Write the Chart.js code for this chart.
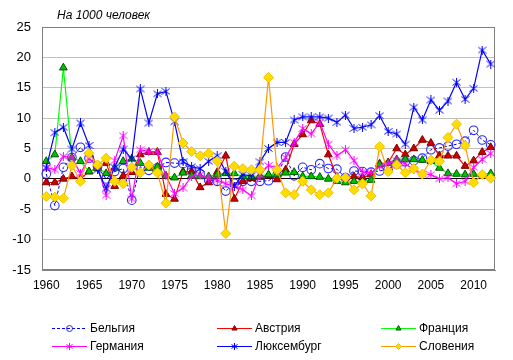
<!DOCTYPE html>
<html><head><meta charset="utf-8">
<script src="https://cdn.jsdelivr.net/npm/chart.js@4/dist/chart.umd.min.js"></script>
<style>html,body{margin:0;padding:0;background:#fff;}</style>
</head><body>
<canvas id="c" width="513" height="360"></canvas>
<script>
const years = ['1960','1961','1962','1963','1964','1965','1966','1967','1968','1969',
  '1970','1971','1972','1973','1974','1975','1976','1977','1978','1979',
  '1980','1981','1982','1983','1984','1985','1986','1987','1988','1989',
  '1990','1991','1992','1993','1994','1995','1996','1997','1998','1999',
  '2000','2001','2002','2003','2004','2005','2006','2007','2008','2009',
  '2010','2011','2012'];
const shownYears = ['1960','1965','1970','1975','1980','1985','1990','1995','2000','2005','2010'];
const yTicks = [-15,-10,-5,0,5,10,15,20,25];
const titleText = 'На 1000 человек';

const belgium = [0.8,-4.4,1.9,3.5,5.2,3.4,2.0,0.0,1.2,1.7,
  -3.5,2.0,1.4,1.8,2.7,2.6,2.5,1.5,0.8,-0.2,
  -0.4,-2.0,-0.7,-0.4,-0.4,-0.4,-0.3,0.6,3.6,0.5,
  1.9,1.5,2.5,1.7,1.6,0.2,1.3,1.2,1.1,1.3,
  1.6,2.4,2.8,3.0,3.4,4.8,5.1,5.4,5.7,6.2,
  8.0,6.4,5.6];
const austria = [-0.6,-0.6,0.0,0.4,0.0,1.2,1.8,2.6,-1.2,0.5,
  1.1,4.0,4.4,4.4,-2.5,-3.3,1.2,1.2,-1.4,-0.6,
  1.1,3.8,-3.3,-0.4,0.1,0.3,0.5,-0.1,1.5,5.7,
  7.3,9.6,9.0,4.0,0.3,0.2,0.4,0.2,0.7,2.5,
  2.7,5.0,4.0,5.0,6.4,5.9,3.8,3.8,3.8,2.1,
  3.0,4.4,5.2];
const france = [2.9,4.0,18.3,3.5,2.9,1.2,1.8,0.9,1.8,2.9,
  3.3,2.6,1.8,2.0,0.5,0.2,1.0,0.5,0.4,0.4,
  0.7,0.9,0.9,0.4,0.4,0.5,0.7,0.7,1.0,1.1,
  0.4,0.4,0.3,0.0,-0.4,-0.6,-0.4,-0.4,-0.2,2.4,
  2.6,3.2,3.2,3.2,3.1,2.9,1.8,0.9,0.8,0.7,
  0.8,0.7,0.9];
const germany = [1.9,1.5,3.7,3.5,0.9,3.4,2.0,-2.7,3.0,7.1,
  -3.3,4.8,4.5,4.5,0.5,-2.4,-1.5,0.4,0.7,0.0,
  -0.2,-0.8,-1.2,-1.8,-2.8,0.7,2.2,1.8,3.5,6.0,
  8.3,7.4,9.3,5.7,3.8,4.8,3.0,1.1,1.0,2.0,
  2.5,3.0,2.5,1.5,0.8,0.7,0.0,0.2,-0.8,-0.4,
  1.9,3.2,4.2];
const luxembourg = [1.8,7.6,8.5,4.9,9.2,5.5,1.5,-1.6,1.9,4.9,
  3.3,14.8,9.2,14.0,14.4,9.4,2.8,2.0,1.7,2.9,
  3.8,1.2,-1.2,0.7,0.5,2.8,5.0,6.0,6.0,9.7,
  10.2,10.2,10.2,10.0,9.3,10.5,8.3,8.5,8.9,10.4,
  7.8,7.4,5.7,11.8,9.7,13.0,11.3,12.8,15.9,13.1,
  14.9,21.2,18.9];
const slovenia = [-2.9,-3.0,-3.2,2.2,-0.4,4.2,2.3,3.4,-0.4,-0.8,
  1.9,1.0,2.3,1.0,-4.0,10.2,5.9,4.5,3.8,4.2,
  2.9,-9.0,2.1,1.7,1.5,1.5,16.7,1.5,-2.3,-2.6,
  -0.4,-1.8,-2.6,-2.3,0.1,0.2,-1.8,-0.8,-2.8,5.3,
  1.2,2.3,1.0,1.7,0.8,3.1,2.9,6.8,9.0,5.5,
  -0.6,0.7,0.1];

const FONT = "'Liberation Sans', Arial, sans-serif";

// Excel-like asterisk marker: X + vertical bar
function makeStar(color, size){
  const c = document.createElement('canvas');
  c.width = size; c.height = size;
  const g = c.getContext('2d');
  g.strokeStyle = color; g.lineWidth = 1;
  const m = size / 2, e = size - 0.5;
  g.beginPath();
  g.moveTo(m, 0); g.lineTo(m, size);
  g.moveTo(0.5, 1.5); g.lineTo(e, size - 1.5);
  g.moveTo(0.5, size - 1.5); g.lineTo(e, 1.5);
  g.stroke();
  return c;
}

const datasets = [
  {label:'Бельгия', data:belgium, borderColor:'#0000ff', borderWidth:1, borderDash:[3,2],
   pointStyle:'circle', pointRadius:4.3, pointBackgroundColor:'rgba(255,255,255,0)', pointBorderColor:'#2a2aff', pointBorderWidth:1.1, order:5},
  {label:'Австрия', data:austria, borderColor:'#ff0000', borderWidth:1.2,
   pointStyle:'triangle', pointRadius:4.5, pointBackgroundColor:'#cc0000', pointBorderColor:'#800000', pointBorderWidth:1, order:4},
  {label:'Франция', data:france, borderColor:'#00ff00', borderWidth:1.2,
   pointStyle:'triangle', pointRadius:4.5, pointBackgroundColor:'#00c000', pointBorderColor:'#005500', pointBorderWidth:1, order:3},
  {label:'Германия', data:germany, borderColor:'#ff00ff', borderWidth:1.2,
   pointStyle:makeStar('#ff00ff', 9), legendStyle:makeStar('#ff00ff', 7), pointRadius:4.5, pointBackgroundColor:'#ff00ff', pointBorderColor:'#ff00ff', pointBorderWidth:1, order:2},
  {label:'Люксембург', data:luxembourg, borderColor:'#0000ff', borderWidth:1.2,
   pointStyle:makeStar('#0000ff', 9), legendStyle:makeStar('#0000ff', 7), pointRadius:4.5, pointBackgroundColor:'#0000ff', pointBorderColor:'#0000ff', pointBorderWidth:1, order:1},
  {label:'Словения', data:slovenia, borderColor:'#ff9900', borderWidth:1.2,
   pointStyle:'rectRot', pointRadius:5, pointBackgroundColor:'#ffdd00', pointBorderColor:'#f0c000', pointBorderWidth:1, order:0}
];
datasets.forEach(d => { d.tension = 0; d.fill = false; d.pointHoverRadius = d.pointRadius; });

const legendPos = [
  {x:52, y:328}, {x:217, y:328}, {x:381, y:328},
  {x:52, y:346}, {x:217, y:346}, {x:381, y:346}
];

const framePlugin = {
  id:'frame',
  beforeDatasetsDraw(chart){
    const {ctx, chartArea:a} = chart;
    ctx.save();
    ctx.strokeStyle = '#808080';
    ctx.lineWidth = 1;
    ctx.strokeRect(Math.round(a.left)+0.5, Math.round(a.top)+0.5, Math.round(a.right-a.left)-1, Math.round(a.bottom-a.top)-1);
    ctx.restore();
  },
  afterDraw(chart){
    const ctx = chart.ctx;
    ctx.save();
    ctx.fillStyle = '#000';
    ctx.font = 'italic 12px ' + FONT;
    ctx.textBaseline = 'alphabetic';
    ctx.textAlign = 'left';
    ctx.fillText(titleText, 57, 19);
    chart.data.datasets.forEach((d, i) => {
      const p = legendPos[i];
      ctx.save();
      ctx.strokeStyle = d.borderColor;
      ctx.lineWidth = 1;
      ctx.setLineDash(d.borderDash || []);
      ctx.beginPath();
      ctx.moveTo(p.x, p.y + 0.5);
      ctx.lineTo(p.x + 35, p.y + 0.5);
      ctx.stroke();
      ctx.setLineDash([]);
      ctx.fillStyle = d.pointBackgroundColor;
      ctx.strokeStyle = d.pointBorderColor;
      ctx.lineWidth = 1;
      const ps = d.legendStyle || d.pointStyle;
      Chart.helpers.drawPoint(ctx, {pointStyle:ps, rotation:0, radius:3, borderWidth:1}, p.x + 17.5, p.y + 0.5);
      ctx.restore();
      ctx.fillStyle = '#000';
      ctx.font = '12px ' + FONT;
      ctx.textBaseline = 'middle';
      ctx.fillText(d.label, p.x + 38, p.y + 1);
    });
    ctx.restore();
  }
};

new Chart(document.getElementById('c'), {
  type:'line',
  data:{labels:years, datasets:datasets},
  options:{
    responsive:false,
    animation:false,
    events:[],
    layout:{padding:{top:27, right:18, bottom:68, left:0}},
    plugins:{legend:{display:false}, tooltip:{enabled:false}, title:{display:false}},
    scales:{
      x:{
        type:'category', offset:true,
        grid:{display:false, drawTicks:false},
        border:{display:true, color:'#808080'},
        ticks:{autoSkip:false, maxRotation:0, minRotation:0, padding:8, color:'#000',
          font:{family:FONT, size:12},
          callback:function(v, i){ const l = years[i]; return shownYears.includes(l) ? l : ''; }},
        afterFit:function(s){ s.height = 22; }
      },
      y:{
        min:-15, max:25,
        afterBuildTicks:function(s){ s.ticks = yTicks.map(v => ({value:v})); },
        grid:{drawTicks:false, lineWidth:1, color:function(c){ return c.tick && c.tick.value === 0 ? '#000000' : '#c0c0c0'; }},
        border:{display:true, color:'#808080'},
        ticks:{padding:11, color:'#000', font:{family:FONT, size:13}},
        afterFit:function(s){ s.width = 42; }
      }
    }
  },
  plugins:[framePlugin]
});
</script>
</body></html>
